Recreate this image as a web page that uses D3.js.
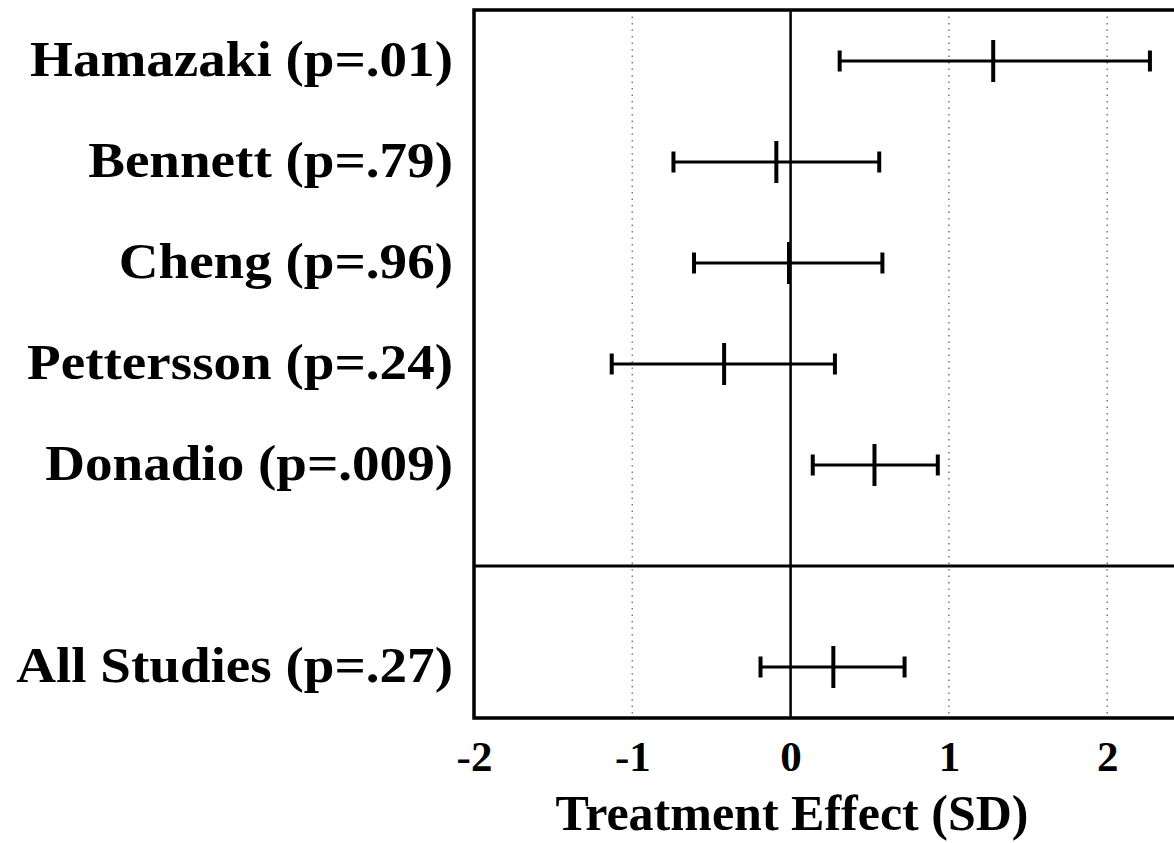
<!DOCTYPE html>
<html>
<head>
<meta charset="utf-8">
<script src="https://cdn.jsdelivr.net/npm/d3@7"></script>
<style>
  body { margin: 0; background: #fff; }
  svg { display: block; }
</style>
</head>
<body>
<svg></svg>
<script>
const width = 1174
const height = 843

// data
const studies = ["Hamazaki", "Bennett", "Cheng", "Pettersson", "Donadio", "All Studies"]
const pValues = [".01", ".79", ".96", ".24", ".009", ".27"]
const estimates = [1.28, -0.09, -0.01, -0.42, 0.53, 0.27]
const lower = [0.31, -0.74, -0.61, -1.13, 0.14, -0.19]
const upper = [2.27, 0.56, 0.58, 0.28, 0.93, 0.72]
const rowSlot = [0, 1, 2, 3, 4, 6]   // slot 5 is the gap with the divider
const xTicks = [-2, -1, 0, 1, 2]

const svg = d3.select('svg')
  .attr('width', width)
  .attr('height', height)

const plotLeft = 474, plotRight = 1180, plotTop = 10, plotBottom = 718

const x = d3.scaleLinear().domain([-2, 2.46]).range([plotLeft, plotRight])
const y = d3.scaleLinear().domain([0, 6]).range([61, 667])

const serif = "'Liberation Serif', 'Times New Roman', serif"

// dotted grid lines
svg.append("g")
  .selectAll("line")
  .data(xTicks.filter(d => d != 0 && d != -2))
  .enter()
  .append("line")
  .attr("x1", d => x(d)).attr("x2", d => x(d))
  .attr("y1", plotTop).attr("y2", plotBottom)
  .attr("stroke", "#777")
  .attr("stroke-width", 1.5)
  .attr("stroke-dasharray", "1.5,5")

// zero line
svg.append("line")
  .attr("x1", x(0)).attr("x2", x(0))
  .attr("y1", plotTop).attr("y2", plotBottom)
  .attr("stroke", "#000")
  .attr("stroke-width", 2.5)

// divider between studies and pooled row
svg.append("line")
  .attr("x1", plotLeft).attr("x2", plotRight)
  .attr("y1", y(5)).attr("y2", y(5))
  .attr("stroke", "#000")
  .attr("stroke-width", 3)

// frame
svg.append("path")
  .attr("d", `M${plotRight},${plotTop}H${plotLeft}V${plotBottom}H${plotRight}`)
  .attr("fill", "none")
  .attr("stroke", "#000")
  .attr("stroke-width", 3.5)

// x axis
const xAxis = d3.axisBottom(x)
  .tickValues(xTicks)
  .tickSize(0)
  .tickPadding(22)
  .tickFormat(d3.format("d"))

const gx = svg.append("g")
  .attr("transform", `translate(0,${plotBottom})`)
  .call(xAxis)
gx.select(".domain").remove()
gx.selectAll("text")
  .attr("fill", "#000")
  .style("font-family", serif)
  .style("font-weight", "bold")
  .style("font-size", "43px")
  .text(d => d < 0 ? "-" + Math.abs(d) : d)

svg.append("text")
  .attr("x", 792)
  .attr("y", 830)
  .attr("text-anchor", "middle")
  .style("font-family", serif)
  .style("font-weight", "bold")
  .style("font-size", "50px")
  .text("Treatment Effect (SD)")

// rows
const rows = studies.map((s, i) => ({
  name: s, p: pValues[i], est: estimates[i], lo: lower[i], hi: upper[i], slot: rowSlot[i]
}))

// the original face is a little wider than Liberation Serif, stretch it
svg.append("g")
  .attr("transform", "translate(453,0) scale(1.08,1)")
  .selectAll("text")
  .data(rows)
  .enter()
  .append("text")
  .attr("x", 0)
  .attr("y", d => y(d.slot) + 15)
  .attr("text-anchor", "end")
  .style("font-family", serif)
  .style("font-weight", "bold")
  .style("font-size", "51px")
  .text(d => d.name + " (p=" + d.p + ")")

const bars = svg.append("g")
  .selectAll("g")
  .data(rows)
  .enter()
  .append("g")
  .attr("stroke", "#000")

bars.append("line")
  .attr("x1", d => x(d.lo)).attr("x2", d => x(d.hi))
  .attr("y1", d => y(d.slot)).attr("y2", d => y(d.slot))
  .attr("stroke-width", 3.2)

bars.append("line")
  .attr("x1", d => x(d.lo)).attr("x2", d => x(d.lo))
  .attr("y1", d => y(d.slot) - 10.5).attr("y2", d => y(d.slot) + 10.5)
  .attr("stroke-width", 4)

bars.append("line")
  .attr("x1", d => x(d.hi)).attr("x2", d => x(d.hi))
  .attr("y1", d => y(d.slot) - 10.5).attr("y2", d => y(d.slot) + 10.5)
  .attr("stroke-width", 4)

bars.append("line")
  .attr("x1", d => x(d.est)).attr("x2", d => x(d.est))
  .attr("y1", d => y(d.slot) - 21).attr("y2", d => y(d.slot) + 21)
  .attr("stroke-width", 4)
</script>
</body>
</html>
